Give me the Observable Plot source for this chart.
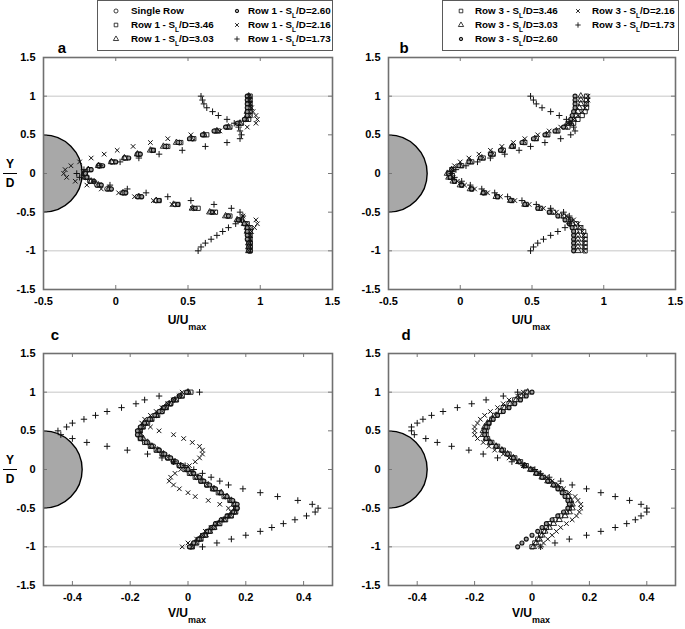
<!DOCTYPE html>
<html><head><meta charset="utf-8">
<script src="https://cdn.jsdelivr.net/npm/d3@7"></script>
<script src="https://cdn.jsdelivr.net/npm/@observablehq/plot@0.6"></script>
<style>
html,body{margin:0;padding:0;background:#fff;}
#fig{position:relative;width:685px;height:629px;overflow:hidden;font-family:"Liberation Sans",Arial,Helvetica,sans-serif;font-weight:bold;color:#000;}
.panel{position:absolute;}
.lbl{position:absolute;white-space:nowrap;line-height:1;}
.legend{position:absolute;border:1.5px solid #5a5a5a;box-sizing:border-box;background:#fff;}
.lsub{font-size:6.5px;position:relative;top:4px;}
.tsub{font-size:9px;position:relative;top:6px;}
</style></head><body><div id="fig"></div>
<script>
// ---------------- data ----------------
const yGrid = [1, 0.95, 0.9, 0.85, 0.8, 0.75, 0.7, 0.65, 0.6, 0.55, 0.5, 0.45, 0.4, 0.35, 0.3, 0.25, 0.2, 0.15, 0.1, 0.05, 0,
  -0.05, -0.1, -0.15, -0.2, -0.25, -0.3, -0.35, -0.4, -0.45, -0.5, -0.55, -0.6, -0.65, -0.7, -0.75, -0.8, -0.85, -0.9, -0.95, -1];

// Panel a: U/Umax, Row 1
const aSingle = [.92,.92,.92,.92,.92,.92,.90,.85,.77,.69,.61,.53,.44,.35,.25,.15,.06,-.03,-.12,-.19,-.22,
  -.21,-.18,-.13,-.06,.05,.15,.28,.41,.54,.66,.77,.85,.90,.92,.92,.92,.92,.93,.93,.93];
const aSL346 = [.93,.93,.93,.93,.93,.93,.92,.87,.79,.71,.63,.54,.45,.36,.26,.16,.07,-.02,-.11,-.18,-.21,
  -.20,-.17,-.11,-.04,.06,.17,.30,.43,.57,.69,.79,.87,.91,.93,.93,.93,.93,.93,.93,.93];
const aSL303 = [.92,.92,.92,.92,.91,.91,.90,.86,.78,.70,.61,.52,.42,.33,.24,.15,.06,-.03,-.12,-.19,-.22,
  -.21,-.17,-.12,-.05,.05,.16,.28,.40,.53,.65,.76,.84,.89,.91,.91,.92,.92,.92,.92,.92];
const aSL260 = [.91,.91,.91,.91,.91,.91,.89,.84,.76,.68,.60,.51,.43,.34,.26,.17,.09,.00,-.09,-.17,-.21,
  -.20,-.15,-.10,-.03,.07,.18,.30,.43,.55,.67,.78,.85,.89,.91,.91,.91,.91,.92,.92,.92];
const aSL216 = [.92,.92,.93,.94,.95,.97,.98,.97,.91,.72,.52,.36,.24,.12,.01,-.08,-.17,-.25,-.31,-.35,-.36,
  -.34,-.28,-.20,-.10,.02,.13,.26,.39,.53,.68,.88,.97,.98,.96,.94,.93,.93,.92,.92,.92];
const aSL173 = [.59,.60,.61,.63,.67,.71,.77,.82,.85,.86,.87,.86,.77,.62,.46,.30,.16,.03,-.11,-.22,-.27,
  -.25,-.15,-.04,.08,.21,.36,.52,.68,.80,.86,.88,.87,.83,.78,.74,.70,.66,.62,.59,.57];

// Panel b: U/Umax, Row 3
const bSL346 = [.88,.88,.88,.88,.87,.85,.82,.79,.75,.68,.61,.53,.45,.37,.30,.23,.16,.08,.01,-.05,-.08,
  -.07,-.04,.01,.08,.17,.26,.36,.46,.56,.65,.72,.77,.81,.84,.86,.87,.87,.87,.87,.87];
const bSL303 = [.84,.84,.84,.83,.82,.81,.79,.77,.73,.67,.60,.52,.44,.36,.29,.22,.15,.07,.00,-.06,-.09,
  -.08,-.05,.00,.07,.16,.25,.35,.45,.55,.63,.70,.75,.78,.80,.81,.82,.82,.82,.82,.82];
const bSL260 = [.80,.80,.80,.80,.79,.78,.77,.75,.72,.66,.59,.51,.43,.36,.28,.21,.14,.06,-.01,-.06,-.08,
  -.07,-.04,.01,.08,.16,.26,.35,.45,.54,.62,.68,.73,.76,.78,.79,.79,.79,.79,.79,.79];
const bSL216 = [.89,.89,.88,.87,.85,.82,.79,.75,.70,.62,.54,.45,.37,.29,.21,.13,.06,.00,-.04,-.06,-.06,
  -.05,-.02,.03,.10,.19,.28,.38,.48,.58,.67,.74,.79,.82,.84,.85,.86,.86,.86,.86,.86];
const bSL173 = [.49,.51,.53,.57,.63,.69,.74,.77,.79,.80,.77,.70,.59,.49,.41,.31,.21,.12,.04,-.03,-.06,
  -.04,.01,.07,.15,.24,.33,.43,.53,.63,.72,.76,.77,.76,.73,.68,.63,.58,.54,.51,.49];

// Panel c: V/Umax, Row 1
const cSingle = [.00,-.03,-.05,-.06,-.08,-.09,-.11,-.13,-.145,-.16,-.17,-.17,-.16,-.14,-.12,-.10,-.085,-.07,-.05,-.03,-.005,
  .01,.03,.045,.065,.09,.11,.13,.15,.165,.17,.16,.14,.12,.10,.085,.07,.055,.04,.02,.01];
const cSL346 = [.01,-.02,-.04,-.06,-.075,-.09,-.105,-.125,-.14,-.155,-.165,-.17,-.165,-.15,-.13,-.11,-.09,-.07,-.05,-.03,-.01,
  .005,.025,.045,.065,.085,.105,.125,.145,.16,.165,.165,.15,.13,.11,.09,.075,.06,.045,.03,.015];
const cSL303 = [.00,-.025,-.045,-.065,-.08,-.095,-.11,-.13,-.15,-.16,-.17,-.165,-.155,-.14,-.125,-.105,-.085,-.065,-.045,-.025,.00,
  .015,.035,.05,.07,.09,.115,.135,.15,.16,.165,.16,.145,.125,.105,.09,.075,.06,.04,.025,.01];
const cSL260 = [-.005,-.03,-.05,-.07,-.085,-.10,-.115,-.135,-.15,-.165,-.175,-.175,-.165,-.145,-.125,-.10,-.08,-.06,-.04,-.02,.00,
  .02,.04,.055,.075,.095,.115,.135,.155,.17,.17,.155,.135,.115,.095,.08,.065,.05,.035,.02,.005];
const cSL216 = [-.02,-.03,-.05,-.07,-.09,-.11,-.13,-.15,-.16,-.13,-.10,-.05,-.015,.015,.04,.05,.05,.04,.025,.005,-.025,
  -.045,-.06,-.065,-.05,-.03,.00,.025,.07,.11,.14,.15,.14,.12,.10,.08,.06,.05,.03,.00,-.02];
const cSL173 = [.04,-.10,-.15,-.18,-.23,-.28,-.32,-.36,-.40,-.42,-.45,-.44,-.40,-.35,-.28,-.21,-.14,-.09,-.05,-.01,.02,
  .05,.08,.11,.14,.19,.25,.31,.38,.43,.45,.44,.41,.37,.33,.29,.25,.20,.15,.10,.05];

// Panel d: V/Umax, Row 3
const dSL346 = [-.02,-.04,-.06,-.08,-.10,-.11,-.13,-.14,-.15,-.155,-.16,-.16,-.155,-.14,-.12,-.10,-.08,-.06,-.04,-.02,.00,
  .02,.04,.06,.08,.10,.115,.125,.13,.135,.13,.12,.10,.08,.06,.05,.04,.03,.02,.01,.00];
const dSL303 = [-.015,-.035,-.055,-.075,-.095,-.11,-.125,-.14,-.155,-.165,-.17,-.17,-.16,-.145,-.125,-.105,-.085,-.065,-.045,-.025,-.005,
  .015,.035,.055,.075,.095,.11,.125,.135,.14,.14,.13,.115,.095,.075,.06,.045,.035,.025,.015,.005];
const dSL260 = [.00,-.02,-.04,-.06,-.08,-.10,-.12,-.135,-.15,-.16,-.165,-.165,-.16,-.145,-.125,-.105,-.085,-.065,-.045,-.025,-.005,
  .015,.035,.055,.075,.09,.105,.115,.125,.13,.125,.11,.09,.07,.05,.035,.02,.00,-.02,-.035,-.05];
const dSL216 = [-.03,-.05,-.08,-.10,-.12,-.145,-.165,-.18,-.19,-.20,-.20,-.20,-.19,-.17,-.15,-.13,-.10,-.08,-.05,-.03,.00,
  .025,.05,.07,.09,.11,.13,.15,.16,.17,.17,.165,.155,.14,.12,.10,.085,.07,.055,.04,.03];
const dSL173 = [-.05,-.10,-.16,-.21,-.26,-.31,-.35,-.38,-.40,-.42,-.42,-.41,-.37,-.33,-.28,-.22,-.17,-.12,-.07,-.03,.01,
  .03,.06,.10,.14,.19,.24,.29,.34,.38,.40,.40,.38,.36,.33,.29,.24,.19,.13,.08,.03];

// axes, reference lines, cylinder
const yTicks = [-1.5, -1, -0.5, 0, 0.5, 1, 1.5];
const uTicks = [-0.5, 0, 0.5, 1, 1.5];
const vTicks = [-0.4, -0.2, 0, 0.2, 0.4];
const uDomain = [-0.5, 1.5];
const vDomain = [-0.5, 0.5];
const yDomain = [-1.5, 1.5];
const refLines = [1, -1];
const cylinder = [{center: 0, radius: 0.5}];
const spacings = ["3.46", "3.03", "2.60", "2.16", "1.73"];

// ---------------- styles per series ----------------
const markerStyle = {
  single: {symbol: "circle", r: 2.4, fill: "none", sw: 0.9},
  s346: {symbol: "square", r: 2.4, fill: "none", sw: 0.9},
  s303: {symbol: "triangle", r: 2.3, fill: "none", sw: 0.9},
  s260: {symbol: "circle", r: 2.0, fill: "#9a9a9a", sw: 1.1},
  s216: {symbol: "times", r: 2.2, fill: "none", sw: 1},
  s173: {symbol: "plus", r: 2.2, fill: "none", sw: 1}
};

const panels = [
  {id: "a", left: 0, top: 0, w: 345, h: 320, ml: 43, mr: 13, mt: 57, mb: 31, xDomain: uDomain, xTicks: uTicks,
   series: [["single", aSingle], ["s346", aSL346], ["s303", aSL303], ["s260", aSL260], ["s216", aSL216], ["s173", aSL173]]},
  {id: "b", left: 340, top: 0, w: 345, h: 320, ml: 48, mr: 10, mt: 57, mb: 31, xDomain: uDomain, xTicks: uTicks,
   series: [["s346", bSL346], ["s303", bSL303], ["s260", bSL260], ["s216", bSL216], ["s173", bSL173]]},
  {id: "c", left: 0, top: 320, w: 345, h: 309, ml: 43, mr: 13, mt: 33, mb: 44, xDomain: vDomain, xTicks: vTicks,
   series: [["single", cSingle], ["s346", cSL346], ["s303", cSL303], ["s260", cSL260], ["s216", cSL216], ["s173", cSL173]]},
  {id: "d", left: 340, top: 320, w: 345, h: 309, ml: 48, mr: 10, mt: 33, mb: 44, xDomain: vDomain, xTicks: vTicks,
   series: [["s346", dSL346], ["s303", dSL303], ["s260", dSL260], ["s216", dSL216], ["s173", dSL173]]}
];

const fig = document.getElementById("fig");
const fmt = d => String(d);

for (const p of panels) {
  const fw = p.w - p.ml - p.mr, fh = p.h - p.mt - p.mb;
  const ySpan = yDomain[1] - yDomain[0], xSpan = p.xDomain[1] - p.xDomain[0];
  const pxPerY = fh / ySpan;
  const tlY = 4 / fh * ySpan, tlX = 4 / fw * xSpan;
  const innerX = p.xTicks.filter(t => t > p.xDomain[0] && t < p.xDomain[1]);
  const innerY = yTicks.filter(t => t > yDomain[0] && t < yDomain[1]);
  const marks = [
    Plot.ruleY(refLines, {stroke: "#c6c6c6", strokeWidth: 1}),
    Plot.dot(cylinder, {x: () => p.xDomain[0], y: d => d.center, r: cylinder[0].radius * pxPerY,
      fill: "#a8a8a8", stroke: "#000", strokeWidth: 1.4, clip: true}),
    Plot.ruleX(innerX, {y1: yDomain[0], y2: yDomain[0] + tlY, stroke: "#777"}),
    Plot.ruleX(innerX, {y1: yDomain[1], y2: yDomain[1] - tlY, stroke: "#777"}),
    Plot.ruleY(innerY, {x1: p.xDomain[0], x2: p.xDomain[0] + tlX, stroke: "#777"}),
    Plot.ruleY(innerY, {x1: p.xDomain[1], x2: p.xDomain[1] - tlX, stroke: "#777"})
  ];
  for (const [key, vals] of p.series) {
    const st = markerStyle[key];
    const rows = vals.map((v, i) => ({x: v, y: yGrid[i]}));
    marks.push(Plot.dot(rows, {x: "x", y: "y", symbol: st.symbol, r: st.r, fill: st.fill,
      stroke: "#111", strokeWidth: st.sw, clip: true}));
  }
  marks.push(Plot.frame({stroke: "#707070", strokeWidth: 1.6}));
  const svg = Plot.plot({
    width: p.w, height: p.h,
    marginLeft: p.ml, marginRight: p.mr, marginTop: p.mt, marginBottom: p.mb,
    x: {domain: p.xDomain, ticks: p.xTicks, tickSize: 0, tickPadding: 8, tickFormat: fmt, label: null},
    y: {domain: yDomain, ticks: yTicks, tickSize: 0, tickPadding: 8, tickFormat: fmt, label: null},
    style: {fontFamily: '"Liberation Sans", Arial, sans-serif', fontSize: "11px", fontWeight: "bold",
      background: "transparent", color: "#000", overflow: "visible"},
    marks
  });
  svg.classList.add("panel");
  svg.style.left = p.left + "px";
  svg.style.top = p.top + "px";
  fig.appendChild(svg);
}

// ---------------- overlay texts ----------------
function place(html, x, y, size, anchor = "middle") {
  const el = document.createElement("div");
  el.className = "lbl";
  el.innerHTML = html;
  el.style.left = x + "px";
  el.style.top = y + "px";
  el.style.fontSize = size + "px";
  el.style.transform = anchor === "middle" ? "translate(-50%,-50%)" : "translate(0,-50%)";
  fig.appendChild(el);
  return el;
}
// panel letters
[["a", 62, 47], ["b", 404, 47], ["c", 55, 334], ["d", 406, 334]].forEach(([t, x, y]) => place(t, x, y, 15));
// axis titles
[[187, 320, "U"], [531, 320, "U"], [187, 613, "V"], [531, 613, "V"]].forEach(([x, y, v]) =>
  place(v + '/U<span class="tsub">max</span>', x, y, 12));
// Y/D fractions
[173, 469].forEach(y0 => {
  place("Y", 10, y0 - 9, 12);
  place("D", 10, y0 + 10, 12);
  const bar = document.createElement("div");
  bar.style.cssText = `position:absolute;left:3px;top:${y0}px;width:14px;height:1.4px;background:#000;`;
  fig.appendChild(bar);
});

// ---------------- legends ----------------
function symbolPath(key) {
  const st = markerStyle[key];
  const types = {circle: d3.symbolCircle, square: d3.symbolSquare, triangle: d3.symbolTriangle,
    times: d3.symbolTimes || d3.symbolX, plus: d3.symbolPlus};
  const rr = st.r * 0.85;
  const path = d3.symbol(types[st.symbol], Math.PI * rr * rr)();
  return `<svg width="10" height="10" style="position:absolute;left:-5px;top:-5px;overflow:visible"><path transform="translate(5,5)" d="${path}" fill="${st.fill}" stroke="#111" stroke-width="${st.sw * 0.9}"/></svg>`;
}
function legendEntry(key, label, sx, tx, y) {
  const holder = document.createElement("div");
  holder.style.cssText = `position:absolute;left:${sx}px;top:${y}px;width:0;height:0;`;
  holder.innerHTML = symbolPath(key);
  fig.appendChild(holder);
  place(label, tx, y, 9.8, "start");
}
const slLabel = (row, s) => `Row ${row} - S<span class="lsub">L</span>/D=${s}`;
function legendBox(x, y, w, h) {
  const box = document.createElement("div");
  box.className = "legend";
  box.style.cssText += `left:${x}px;top:${y}px;width:${w}px;height:${h}px;`;
  fig.appendChild(box);
}
legendBox(97, 0, 236, 51);
legendEntry("single", "Single Row", 116, 131, 11);
legendEntry("s346", slLabel(1, spacings[0]), 116, 131, 25);
legendEntry("s303", slLabel(1, spacings[1]), 116, 131, 39);
legendEntry("s260", slLabel(1, spacings[2]), 237, 248, 11);
legendEntry("s216", slLabel(1, spacings[3]), 237, 248, 25);
legendEntry("s173", slLabel(1, spacings[4]), 237, 248, 39);

legendBox(442, 0, 237, 51);
legendEntry("s346", slLabel(3, spacings[0]), 461, 475, 11);
legendEntry("s303", slLabel(3, spacings[1]), 461, 475, 25);
legendEntry("s260", slLabel(3, spacings[2]), 461, 475, 39);
legendEntry("s216", slLabel(3, spacings[3]), 578, 592, 11);
legendEntry("s173", slLabel(3, spacings[4]), 578, 592, 25);
</script></body></html>
